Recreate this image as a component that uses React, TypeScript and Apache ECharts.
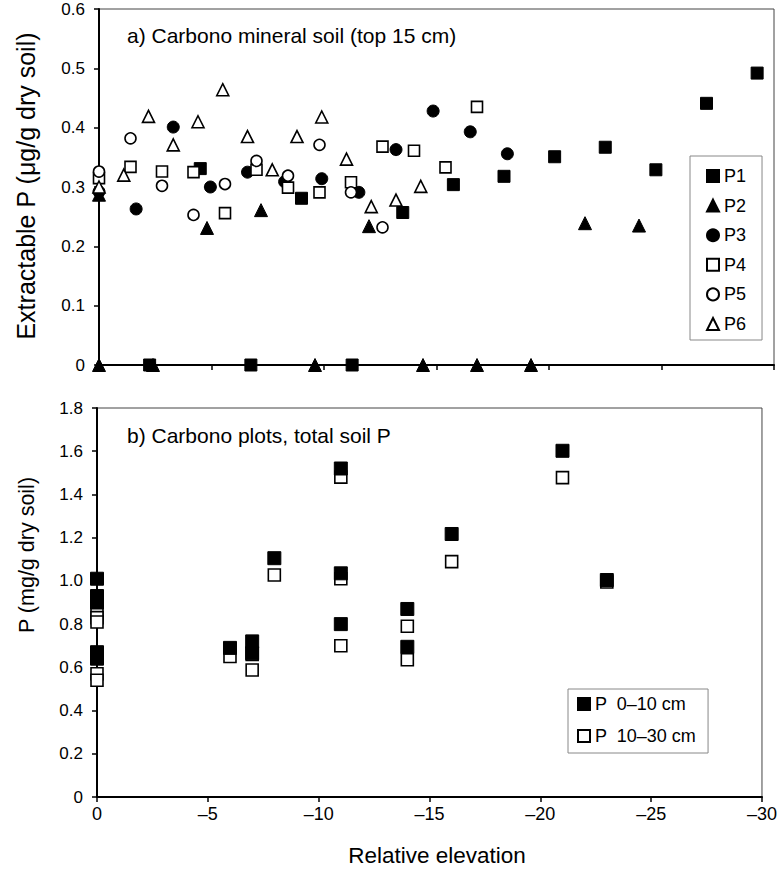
import React, { useEffect, useRef } from "react";
import * as echarts from "echarts";

// Panel a) extractable P by plot
const p1X = [-2.25, -4.5, -6.75, -9.0, -11.25, -13.5, -15.75, -18.0, -20.25, -22.5, -24.75, -27.0, -29.25];
const p1Y = [0, 0.331, 0, 0.281, 0, 0.257, 0.304, 0.318, 0.351, 0.367, 0.329, 0.441, 0.492];
const p2X = [0, 0, -2.4, -4.8, -7.2, -9.6, -12.0, -14.4, -16.8, -19.2, -21.6, -24.0];
const p2Y = [0.287, 0, 0, 0.231, 0.261, 0, 0.234, 0, 0, 0, 0.239, 0.235];
const p3X = [0, -1.65, -3.3, -4.95, -6.6, -8.25, -9.9, -11.55, -13.2, -14.85, -16.5, -18.15];
const p3Y = [0.292, 0.263, 0.401, 0.3, 0.325, 0.309, 0.314, 0.291, 0.363, 0.428, 0.393, 0.356];
const p4X = [0, -1.4, -2.8, -4.2, -5.6, -7.0, -8.4, -9.8, -11.2, -12.6, -14.0, -15.4, -16.8];
const p4Y = [0.315, 0.334, 0.326, 0.325, 0.256, 0.329, 0.299, 0.291, 0.308, 0.368, 0.361, 0.333, 0.435];
const p5X = [0, -1.4, -2.8, -4.2, -5.6, -7.0, -8.4, -9.8, -11.2, -12.6];
const p5Y = [0.326, 0.382, 0.302, 0.253, 0.305, 0.344, 0.319, 0.371, 0.291, 0.232];
const p6X = [0, -1.1, -2.2, -3.3, -4.4, -5.5, -6.6, -7.7, -8.8, -9.9, -11.0, -12.1, -13.2, -14.3];
const p6Y = [0.3, 0.32, 0.419, 0.371, 0.41, 0.464, 0.385, 0.329, 0.385, 0.418, 0.347, 0.267, 0.278, 0.301];

// Panel b) total soil P
const totalX = [0, 0, 0, 0, 0, -6, -7, -7, -8, -11, -11, -11, -14, -14, -16, -21, -23];
const shallowP = [1.01, 0.93, 0.9, 0.67, 0.64, 0.69, 0.72, 0.665, 1.105, 1.52, 1.035, 0.8, 0.87, 0.695, 1.217, 1.602, 1.004];
const deepP = [0.85, 0.83, 0.81, 0.57, 0.54, 0.65, 0.66, 0.588, 1.027, 1.48, 1.01, 0.7, 0.79, 0.635, 1.089, 1.478, 0.995];

const FONT = "Liberation Sans, Arial, Helvetica, sans-serif";

const zip = (xs: number[], ys: number[]) => xs.map((x, i) => [x, ys[i]]);

export default function App() {
  const ref = useRef<HTMLDivElement>(null);
  useEffect(() => {
    if (!ref.current) return;
    const chart = echarts.init(ref.current, undefined, { renderer: "svg" });
    const filled = { color: "#000", borderColor: "#000", borderWidth: 1, opacity: 1 };
    const open = { color: "#fff", borderColor: "#000", borderWidth: 1.6, opacity: 1 };
    const xAxisBase = (gridIndex: number, showLabels: boolean) => ({
      type: "value",
      gridIndex,
      min: -30,
      max: 0,
      interval: 5,
      inverse: true,
      splitLine: { show: false },
      axisLine: { show: true, onZero: false, lineStyle: { color: "#000", width: 2 } },
      axisTick: { show: true, length: 5, lineStyle: { color: "#000", width: 1.5 } },
      axisLabel: {
        show: showLabels,
        color: "#000",
        fontSize: 18,
        fontFamily: FONT,
        margin: 8,
        formatter: (v: number) => (v === 0 ? "0" : "\u2013" + Math.abs(v)),
      },
    });
    const yAxisBase = (gridIndex: number, max: number, interval: number) => ({
      type: "value",
      gridIndex,
      min: 0,
      max,
      interval,
      splitLine: { show: false },
      axisLine: { show: true, onZero: false, lineStyle: { color: "#000", width: 2 } },
      axisTick: { show: true, length: 5, lineStyle: { color: "#000", width: 1.5 } },
      axisLabel: {
        color: "#000",
        fontSize: 17,
        fontFamily: FONT,
        margin: 14,
        formatter: (v: number) => (v === 0 ? "0" : v.toFixed(1)),
      },
    });
    const option: any = {
      animation: false,
      backgroundColor: "#fff",
      title: [
        {
          text: "a) Carbono mineral soil (top 15 cm)",
          left: 122,
          top: 20,
          textStyle: { color: "#000", fontSize: 21, fontWeight: "normal", fontFamily: FONT },
        },
        {
          text: "b) Carbono plots, total soil P",
          left: 122,
          top: 420,
          textStyle: { color: "#000", fontSize: 21, fontWeight: "normal", fontFamily: FONT },
        },
      ],
      graphic: [
        {
          type: "text",
          x: 26,
          y: 186,
          rotation: Math.PI / 2,
          style: {
            text: "Extractable P (\u03bcg/g dry soil)",
            fill: "#000",
            fontSize: 25,
            fontFamily: FONT,
            align: "center",
            verticalAlign: "middle",
          },
        },
        {
          type: "text",
          x: 27,
          y: 555,
          rotation: Math.PI / 2,
          style: {
            text: "P (mg/g dry soil)",
            fill: "#000",
            fontSize: 21.5,
            fontFamily: FONT,
            align: "center",
            verticalAlign: "middle",
          },
        },
        {
          type: "text",
          x: 437,
          y: 855,
          style: {
            text: "Relative elevation",
            fill: "#000",
            fontSize: 22.5,
            fontFamily: FONT,
            align: "center",
            verticalAlign: "middle",
          },
        },
      ],
      grid: [
        { left: 99, top: 9, width: 675, height: 356, show: true, borderColor: "#444", borderWidth: 1, backgroundColor: "transparent" },
        { left: 97, top: 408, width: 678, height: 389, show: true, borderColor: "#444", borderWidth: 1, backgroundColor: "transparent" },
      ],
      legend: [
        {
          data: ["P1", "P2", "P3", "P4", "P5", "P6"],
          orient: "vertical",
          left: 690,
          top: 156,
          itemWidth: 12,
          itemHeight: 12,
          itemGap: 11.6,
          padding: [11, 16, 7, 16],
          borderColor: "#888",
          borderWidth: 1,
          textStyle: { color: "#000", fontSize: 18, fontFamily: FONT },
        },
        {
          data: ["P  0\u201310 cm", "P  10\u201330 cm"],
          orient: "vertical",
          left: 568,
          top: 689,
          itemWidth: 12,
          itemHeight: 12,
          itemGap: 14,
          padding: [6, 12, 8, 9],
          borderColor: "#888",
          borderWidth: 1,
          textStyle: { color: "#000", fontSize: 18, fontFamily: FONT },
        },
      ],
      xAxis: [xAxisBase(0, false), xAxisBase(1, true)],
      yAxis: [yAxisBase(0, 0.6, 0.1), yAxisBase(1, 1.8, 0.2)],
      series: [
        { name: "P1", type: "scatter", xAxisIndex: 0, yAxisIndex: 0, symbol: "rect", symbolSize: 12, itemStyle: filled, data: zip(p1X, p1Y) },
        { name: "P2", type: "scatter", xAxisIndex: 0, yAxisIndex: 0, symbol: "triangle", symbolSize: 13, itemStyle: filled, data: zip(p2X, p2Y) },
        { name: "P3", type: "scatter", xAxisIndex: 0, yAxisIndex: 0, symbol: "circle", symbolSize: 12, itemStyle: filled, data: zip(p3X, p3Y) },
        { name: "P4", type: "scatter", xAxisIndex: 0, yAxisIndex: 0, symbol: "rect", symbolSize: 11, itemStyle: open, data: zip(p4X, p4Y) },
        { name: "P5", type: "scatter", xAxisIndex: 0, yAxisIndex: 0, symbol: "circle", symbolSize: 11, itemStyle: open, data: zip(p5X, p5Y) },
        { name: "P6", type: "scatter", xAxisIndex: 0, yAxisIndex: 0, symbol: "triangle", symbolSize: 12, itemStyle: open, data: zip(p6X, p6Y) },
        { name: "P  10\u201330 cm", type: "scatter", xAxisIndex: 1, yAxisIndex: 1, symbol: "rect", symbolSize: 12, itemStyle: open, data: zip(totalX, deepP) },
        { name: "P  0\u201310 cm", type: "scatter", xAxisIndex: 1, yAxisIndex: 1, symbol: "rect", symbolSize: 13, itemStyle: filled, data: zip(totalX, shallowP) },
      ],
    };
    chart.setOption(option);
    return () => chart.dispose();
  }, []);
  return (
    <div
      ref={ref}
      style={{ position: "absolute", left: 0, top: 0, width: 780, height: 869, background: "#fff" }}
    />
  );
}
